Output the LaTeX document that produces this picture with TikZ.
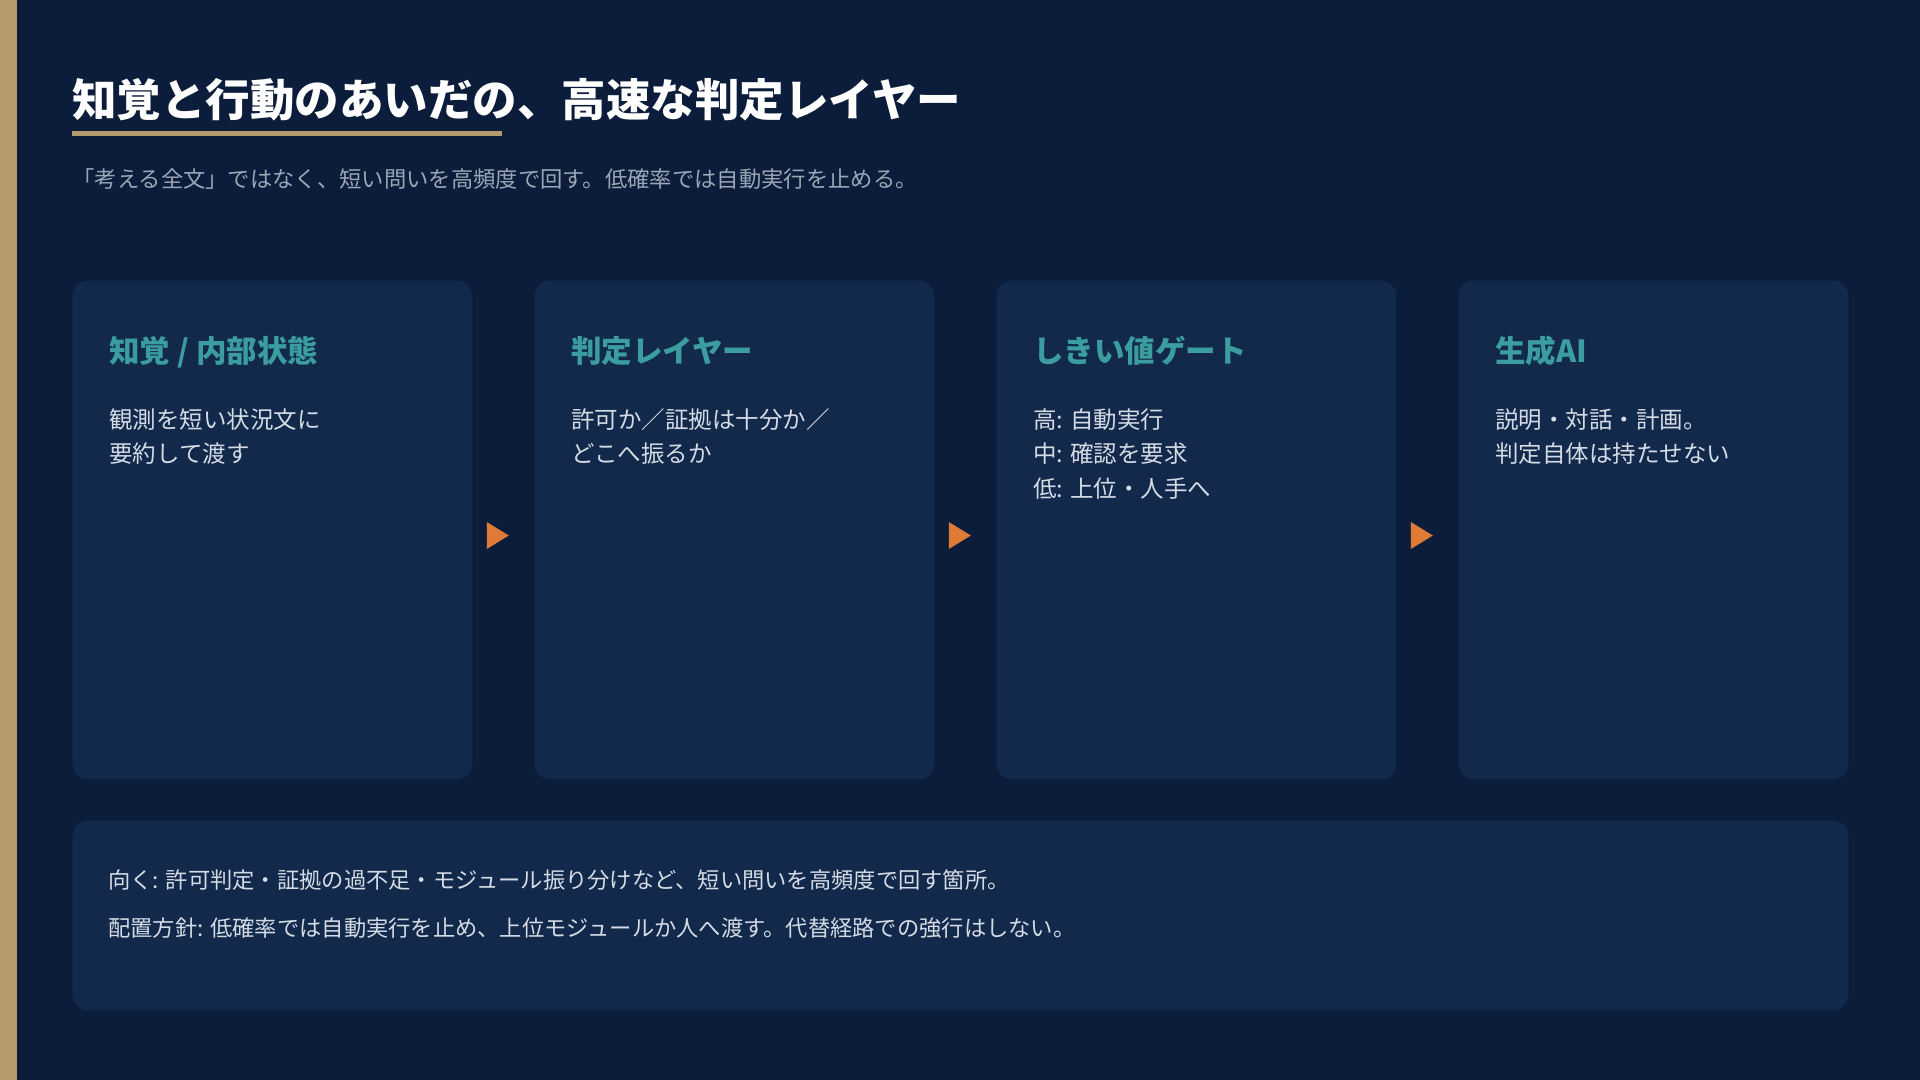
\documentclass[tikz,border=0pt]{standalone}
\usepackage{fontspec}
\setmainfont{Noto Sans CJK JP}
\usetikzlibrary{calc}
\definecolor{bg}{HTML}{0B1D3A}
\definecolor{cardbg}{HTML}{12294B}
\definecolor{gold}{HTML}{B39B6B}
\definecolor{accent}{HTML}{E07B35}
\definecolor{teal}{HTML}{3B9DA0}
\definecolor{bodytxt}{HTML}{D4DBE5}
\definecolor{subtxt}{HTML}{9AA6B6}
\tikzset{
  card/.style={fill=cardbg, rounded corners=8pt, inner sep=0, anchor=north west, minimum height=249.5pt},
  ttl/.style={anchor=base west, inner sep=0, text=white, font=\fontsize{22.25pt}{26pt}\selectfont\bfseries},
  subttl/.style={anchor=base west, inner sep=0, text=subtxt, font=\fontsize{11.16pt}{14pt}\selectfont},
  cardttl/.style={anchor=base west, inner sep=0, text=teal, font=\fontsize{15.25pt}{18pt}\selectfont\bfseries},
  cardtxt/.style={anchor=base west, inner sep=0, text=bodytxt, font=\fontsize{11.75pt}{14pt}\selectfont},
  notetxt/.style={anchor=base west, inner sep=0, text=bodytxt, font=\fontsize{11.14pt}{14pt}\selectfont},
  flowtri/.style={fill=accent},
}
\begin{document}
\begin{tikzpicture}[x=0.5pt,y=-0.5pt]
\fill[bg] (0,0) rectangle (1920,1080);
\useasboundingbox (0,0) rectangle (1920,1080);
\fill[gold] (0,0) rectangle (17,1080);

% title
\node[ttl] (title) at (72,117) {知覚と行動のあいだの、高速な判定レイヤー};
\fill[gold] (72,131) rectangle (502,136);
\node[subttl] (sub) at (72,188) {「考える全文」ではなく、短い問いを高頻度で回す。低確率では自動実行を止める。};

% cards
\node[card, minimum width=200pt] (c1) at (72,280) {};
\node[card, minimum width=200pt] (c2) at (534,280) {};
\node[card, minimum width=200pt] (c3) at (996,280) {};
\node[card, minimum width=195pt] (c4) at (1458,280) {};

\node[cardttl] (t1) at ($(c1.north west)+(37,83)$) {知覚 / 内部状態};
\node[cardtxt] (b1a) at ($(c1.north west)+(37,148)$) {観測を短い状況文に};
\node[cardtxt] (b1b) at ($(c1.north west)+(37,182.5)$) {要約して渡す};

\node[cardttl] (t2) at ($(c2.north west)+(37,83)$) {判定レイヤー};
\node[cardtxt] (b2a) at ($(c2.north west)+(37,148)$) {許可か／証拠は十分か／};
\node[cardtxt] (b2b) at ($(c2.north west)+(37,182.5)$) {どこへ振るか};

\node[cardttl] (t3) at ($(c3.north west)+(37,83)$) {しきい値ゲート};
\node[cardtxt] (b3a) at ($(c3.north west)+(37,148)$) {高: 自動実行};
\node[cardtxt] (b3b) at ($(c3.north west)+(37,182.5)$) {中: 確認を要求};
\node[cardtxt] (b3c) at ($(c3.north west)+(37,217)$) {低: 上位・人手へ};

\node[cardttl] (t4) at ($(c4.north west)+(37,83)$) {生成AI};
\node[cardtxt] (b4a) at ($(c4.north west)+(37,148)$) {説明・対話・計画。};
\node[cardtxt] (b4b) at ($(c4.north west)+(37,182.5)$) {判定自体は持たせない};

% flow triangles
\fill[flowtri] ($(c1.north east)+(14,242)$) -- ++(22,13.5) -- ++(-22,13.5) -- cycle;
\fill[flowtri] ($(c2.north east)+(14,242)$) -- ++(22,13.5) -- ++(-22,13.5) -- cycle;
\fill[flowtri] ($(c3.north east)+(14,242)$) -- ++(22,13.5) -- ++(-22,13.5) -- cycle;

% bottom note
\node[fill=cardbg, rounded corners=8pt, inner sep=0, anchor=north west, minimum width=888pt, minimum height=95pt] (note) at (72,820) {};
\node[notetxt] (n1) at ($(note.north west)+(36,68)$) {向く: 許可判定・証拠の過不足・モジュール振り分けなど、短い問いを高頻度で回す箇所。};
\node[notetxt] (n2) at ($(note.north west)+(36,116)$) {配置方針: 低確率では自動実行を止め、上位モジュールか人へ渡す。代替経路での強行はしない。};
\end{tikzpicture}
\end{document}
